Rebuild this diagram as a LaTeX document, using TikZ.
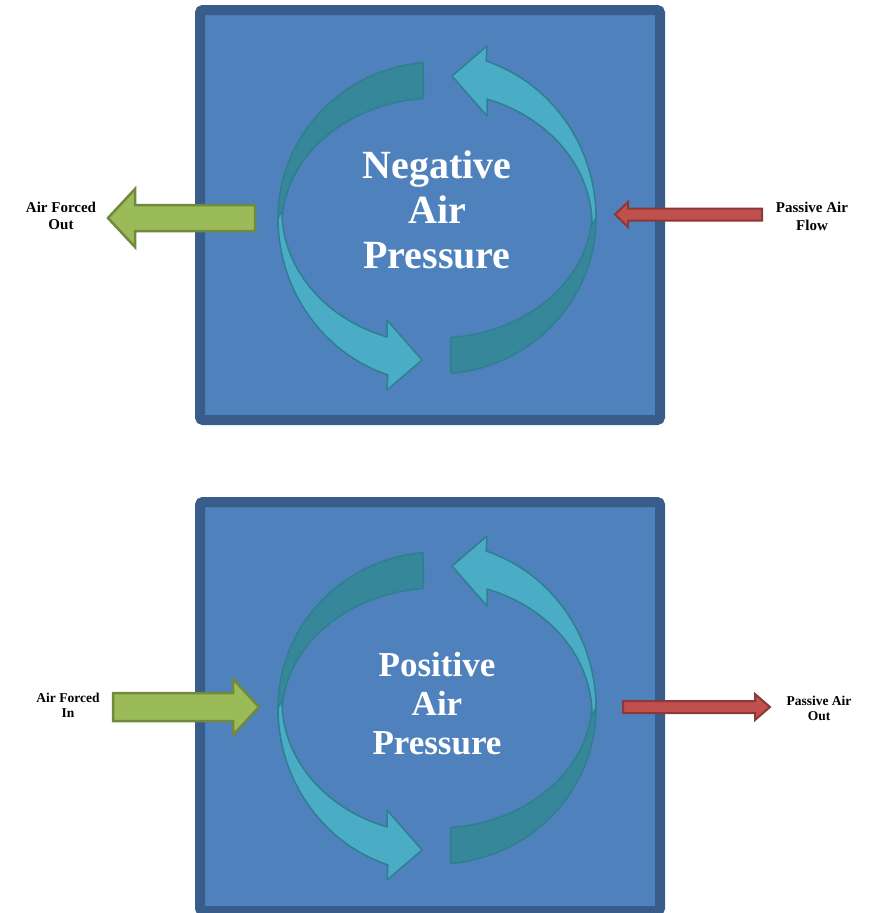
\documentclass[tikz,border=0pt]{standalone}
\usepackage{fontspec}
\setmainfont{Liberation Serif}
\definecolor{boxfill}{HTML}{4F81BD}
\definecolor{boxline}{HTML}{385D8A}
\definecolor{tealfront}{HTML}{4BACC6}
\definecolor{tealback}{HTML}{37879B}
\definecolor{tealline}{HTML}{2E7F8F}
\definecolor{greenfill}{HTML}{9BBB59}
\definecolor{greenline}{HTML}{71893F}
\definecolor{redfill}{HTML}{C0504D}
\definecolor{redline}{HTML}{8C3836}
\tikzset{
  chamber/.style={draw=boxline, fill=boxfill, line width=10pt, rounded corners=3pt},
  backband/.style={fill=tealback, draw=tealline, line width=1.5pt, line join=round},
  frontband/.style={fill=tealfront, draw=tealline, line width=1.5pt, line join=round},
  greenarrow/.style={fill=greenfill, draw=greenline, line width=2.5pt, line join=miter},
  redarrow/.style={fill=redfill, draw=redline, line width=2pt, line join=miter},
  bigtxt/.style={text=white, font=\bfseries\fontsize{40}{45}\selectfont, align=center, text width=260pt, anchor=base, inner sep=0pt},
  bigtxtb/.style={text=white, font=\bfseries\fontsize{35}{39}\selectfont, align=center, text width=260pt, anchor=base, inner sep=0pt},
  lbl/.style={text=black, font=\bfseries\fontsize{15}{17.5}\selectfont, align=center, inner sep=0pt},
  lblb/.style={text=black, font=\bfseries\fontsize{13.5}{15}\selectfont, align=center, inner sep=0pt},
  pics/halfcycle/.style={code={
    \filldraw[backband] (265:159 and 156) arc[start angle=265, end angle=177, x radius=159, y radius=156]
      -- (-155,7) arc[start angle=180, end angle=265, x radius=155, y radius=127] -- cycle;
    \filldraw[frontband] (-159,0) arc[start angle=180, end angle=108, x radius=159, y radius=165]
      -- (-50,172) -- (-15,142) -- (-50,102) -- (-50,118.9)
      arc[start angle=108.8, end angle=180, x radius=155, y radius=133] -- cycle;
  }}
}
\begin{document}
\begin{tikzpicture}[x=1pt, y=-1pt]
\useasboundingbox (0,0) rectangle (868,913);
\fill[white] (0,0) rectangle (868,913);

% top chamber
\draw[chamber] (200,10) rectangle (660,420);
\pic at (437,218) {halfcycle};
\pic[rotate=180] at (437,218) {halfcycle};
\node[bigtxt] (neg) at (437,178) {Negative\\Air\\Pressure};

% bottom chamber
\draw[chamber] (200,502) rectangle (660,911);
\pic at (437,708) {halfcycle};
\pic[rotate=180] at (437,708) {halfcycle};
\node[bigtxtb] (pos) at (437,676) {Positive\\Air\\Pressure};

% top side arrows
\filldraw[greenarrow] (255,205) -- (135,205) -- (135,189) -- (108,218) -- (135,247) -- (135,231) -- (255,231) -- cycle;
\filldraw[redarrow] (762,208.5) -- (628,208.5) -- (628,202) -- (615,214.5) -- (628,227) -- (628,220.5) -- (762,220.5) -- cycle;
\node[lbl] (out) at (61,216) {Air Forced\\Out};
\node[lbl] (flow) at (812,216.5) {Passive Air\\Flow};

% bottom side arrows
\filldraw[greenarrow] (113,693) -- (233,693) -- (233,679) -- (259,707) -- (233,735) -- (233,721) -- (113,721) -- cycle;
\filldraw[redarrow] (623,701) -- (755,701) -- (755,694) -- (770,707) -- (755,720) -- (755,713) -- (623,713) -- cycle;
\node[lblb] (in) at (68,705.5) {Air Forced\\In};
\node[lblb] (pout) at (819,708.5) {Passive Air\\Out};
\end{tikzpicture}
\end{document}
